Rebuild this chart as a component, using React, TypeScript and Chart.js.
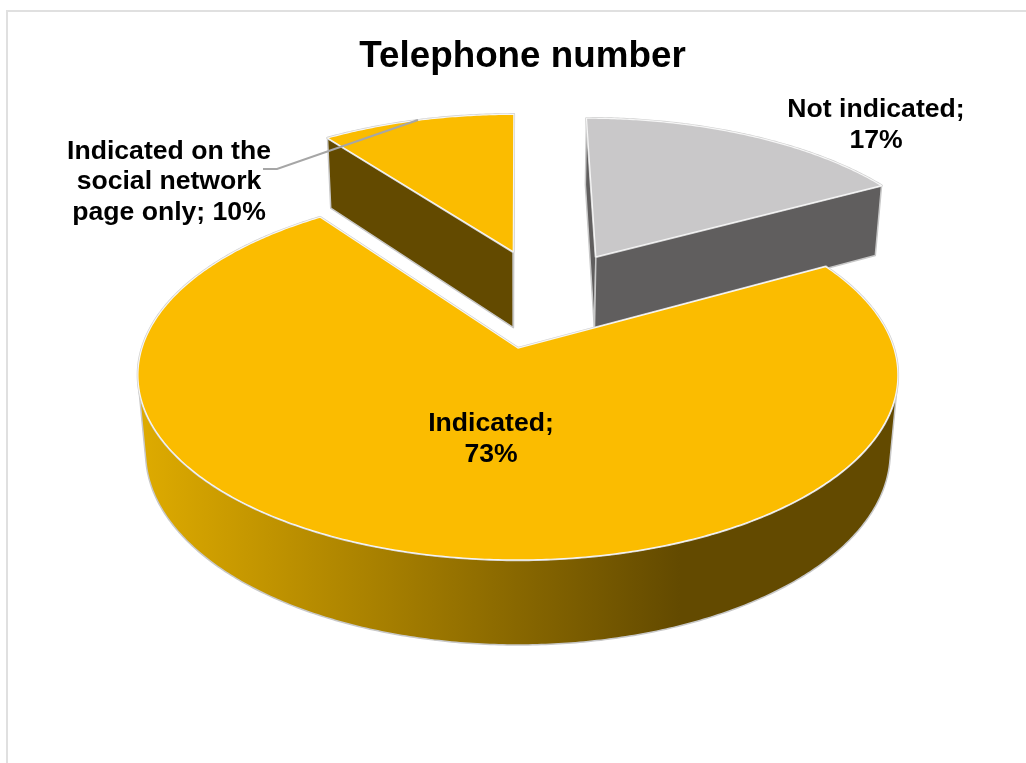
import React, { useEffect, useRef } from "react";
import { Chart, registerables } from "chart.js";

Chart.register(...registerables);

const titleText = "Telephone number";
const categories = ["Not indicated", "Indicated", "Indicated on the social network page only"];
const shares = [17, 73, 10];
const topColors = ["#C9C8C9", "#FBBC00", "#FBBC00"];
const wallColors = ["#605E5E", "#634A00", "#634A00"];
const labelLines = [
  ["Not indicated;", "17%"],
  ["Indicated;", "73%"],
  ["Indicated on the", "social network", "page only; 10%"],
];
const labelAnchors = [
  [876, 125],
  [491, 439],
  [169, 182],
];
const FONT = '"Liberation Sans", Arial, sans-serif';

// Camera used to tilt the pie: disc units go in, canvas pixels come out.
const cam = { a: 1.637, b: 0.788, depth: 0.342, k: 0.146, m: 0.02, shiftX: -4.5 };
// Where the undisplaced pie centre sits on the disc, relative to the main slice's tip.
const discCentre = { u: 0.063, v: -0.283 };
// Small per-slice corrections for the pulled-out pieces: disc shift, radius and thickness factors.
const sliceShift = [
  [0.013, -0.012],
  [0, 0],
  [0.013, -0.018],
];
const sliceScale = [1.015, 1, 1.015];
const sliceDepth = [1, 1, 1.04];
const drawOrder = [0, 2, 1];

function polygon(ctx: CanvasRenderingContext2D, pts: number[][]) {
  ctx.beginPath();
  pts.forEach((p, i) => (i ? ctx.lineTo(p[0], p[1]) : ctx.moveTo(p[0], p[1])));
  ctx.closePath();
}

function shoelace(pts: number[][]) {
  let s = 0;
  pts.forEach((p, i) => {
    const q = pts[(i + 1) % pts.length];
    s += p[0] * q[1] - q[0] * p[1];
  });
  return s;
}

const pie3d = {
  id: "pie3d",
  beforeDraw(chart: any) {
    const { ctx, width, height } = chart;
    ctx.save();
    ctx.fillStyle = "#FFFFFF";
    ctx.fillRect(0, 0, width, height);
    ctx.fillStyle = "#E0E0E0";
    ctx.fillRect(6, 10, width - 6, 2);
    ctx.fillRect(6, 10, 2, height - 10);
    ctx.restore();
  },
  beforeDatasetsDraw(chart: any) {
    const ctx: CanvasRenderingContext2D = chart.ctx;
    const arcs = chart.getDatasetMeta(0).data;
    const R = arcs[0].outerRadius;
    const ox = arcs[0].x + cam.shiftX;
    const oy = arcs[0].y;
    const project = (u: number, v: number, z: number) => {
      const w = 1 - cam.k * v + cam.m * z;
      return [ox + (R * cam.a * u) / w, oy + (R * cam.b * v + R * cam.depth * z) / w];
    };

    ctx.save();
    ctx.lineJoin = "round";
    for (const i of drawOrder) {
      const el = arcs[i];
      const start = el.startAngle;
      const end = el.endAngle;
      const mid = (start + end) / 2;
      const e = el.options.offset / R;
      const bu = discCentre.u + e * Math.cos(mid) + sliceShift[i][0];
      const bv = discCentre.v + e * Math.sin(mid) + sliceShift[i][1];
      const r = sliceScale[i];
      const d = sliceDepth[i];
      const rim = (a: number, z: number) => project(bu + r * Math.cos(a), bv + r * Math.sin(a), z * d);
      const tip = (z: number) => project(bu, bv, z * d);
      const steps = Math.ceil((end - start) / 0.01);
      const angles = Array.from({ length: steps + 1 }, (_, n) => start + ((end - start) * n) / steps);

      ctx.fillStyle = wallColors[i];
      ctx.strokeStyle = "#C8C8C8";
      ctx.lineWidth = 1.5;

      // Flat cut faces, only where they turn toward the camera
      const startWall = [tip(0), rim(start, 0), rim(start, 1), tip(1)];
      const endWall = [tip(0), rim(end, 0), rim(end, 1), tip(1)];
      if (shoelace(startWall) < 0) {
        polygon(ctx, startWall);
        ctx.fill();
        ctx.stroke();
      }
      if (shoelace(endWall) > 0) {
        polygon(ctx, endWall);
        ctx.fill();
        ctx.stroke();
      }

      // Curved outer wall, front-facing run only
      const visible = angles.slice(0, -1).map((a, n) =>
        shoelace([rim(a, 0), rim(angles[n + 1], 0), rim(angles[n + 1], 1), rim(a, 1)]) < 0
      );
      const first = visible.indexOf(true);
      const last = visible.lastIndexOf(true);
      if (first >= 0) {
        const run = angles.slice(first, last + 2);
        const strip = [...run.map((a) => rim(a, 0)), ...run.slice().reverse().map((a) => rim(a, 1))];
        const shade = ctx.createLinearGradient(145, 0, 680, 0);
        shade.addColorStop(0, "#DDAA00");
        shade.addColorStop(1, wallColors[i]);
        ctx.fillStyle = shade;
        polygon(ctx, strip);
        ctx.fill();
        ctx.stroke();
      }

      // Top face
      const top = [tip(0), ...angles.map((a) => rim(a, 0))];
      polygon(ctx, top);
      ctx.strokeStyle = "#CFCFCF";
      ctx.lineWidth = 2.5;
      ctx.stroke();
      ctx.fillStyle = el.options.backgroundColor;
      ctx.fill();
      ctx.strokeStyle = "#F6F6F6";
      ctx.lineWidth = 1.2;
      ctx.stroke();
    }
    ctx.restore();
    return false;
  },
  afterDraw(chart: any) {
    const ctx: CanvasRenderingContext2D = chart.ctx;
    ctx.save();
    // Leader line for the small slice's label
    ctx.strokeStyle = "#A6A6A6";
    ctx.lineWidth = 2;
    ctx.beginPath();
    ctx.moveTo(263, 169);
    ctx.lineTo(277, 169);
    ctx.lineTo(418, 120);
    ctx.stroke();

    ctx.fillStyle = "#000000";
    ctx.font = `bold 26.6px ${FONT}`;
    ctx.textAlign = "center";
    ctx.textBaseline = "middle";
    const lineStep = 30.6;
    labelLines.forEach((lines, i) => {
      const [x, y] = labelAnchors[i];
      lines.forEach((line, n) => {
        ctx.fillText(line, x, y + (n - (lines.length - 1) / 2) * lineStep);
      });
    });
    ctx.restore();
  },
};

export default function App() {
  const canvasRef = useRef<HTMLCanvasElement>(null);

  useEffect(() => {
    const chart = new Chart(canvasRef.current as HTMLCanvasElement, {
      type: "pie",
      data: {
        labels: categories,
        datasets: [
          {
            data: shares,
            backgroundColor: topColors,
            borderWidth: 0,
            offset: 66.6,
          },
        ],
      },
      options: {
        responsive: false,
        animation: false,
        rotation: 0,
        layout: { padding: { left: 19, right: 0, top: 0, bottom: 152 } },
        plugins: {
          legend: { display: false },
          tooltip: { enabled: false },
          title: {
            display: true,
            text: titleText,
            color: "#000000",
            font: { family: FONT, size: 36.8, weight: "bold", lineHeight: 1.2 },
            padding: { top: 35, bottom: 6 },
          },
        },
      },
      plugins: [pie3d],
    } as any);
    return () => chart.destroy();
  }, []);

  return (
    <div style={{ position: "absolute", left: 0, top: 0, width: 1026, height: 763 }}>
      <canvas ref={canvasRef} width={1026} height={763} style={{ display: "block" }} />
    </div>
  );
}
